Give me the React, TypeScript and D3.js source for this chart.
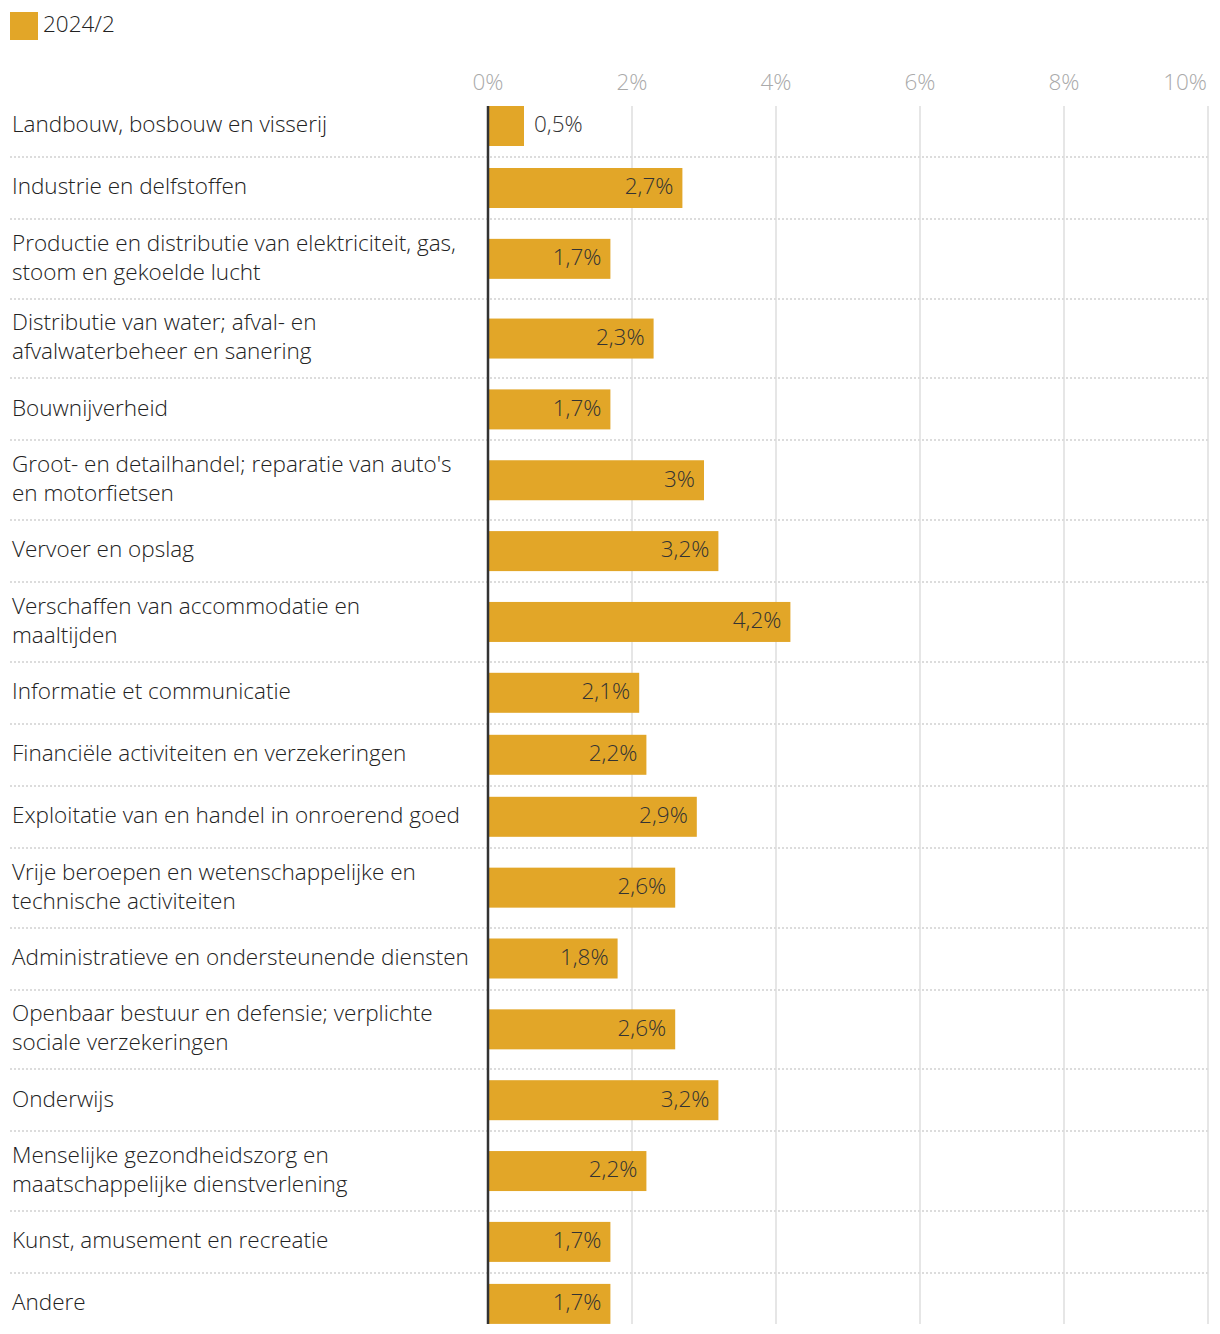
import React from "react";
import * as d3 from "d3";

const categories: string[][] = [
  ["Landbouw, bosbouw en visserij"],
  ["Industrie en delfstoffen"],
  ["Productie en distributie van elektriciteit, gas,", "stoom en gekoelde lucht"],
  ["Distributie van water; afval- en", "afvalwaterbeheer en sanering"],
  ["Bouwnijverheid"],
  ["Groot- en detailhandel; reparatie van auto's", "en motorfietsen"],
  ["Vervoer en opslag"],
  ["Verschaffen van accommodatie en", "maaltijden"],
  ["Informatie et communicatie"],
  ["Financiële activiteiten en verzekeringen"],
  ["Exploitatie van en handel in onroerend goed"],
  ["Vrije beroepen en wetenschappelijke en", "technische activiteiten"],
  ["Administratieve en ondersteunende diensten"],
  ["Openbaar bestuur en defensie; verplichte", "sociale verzekeringen"],
  ["Onderwijs"],
  ["Menselijke gezondheidszorg en", "maatschappelijke dienstverlening"],
  ["Kunst, amusement en recreatie"],
  ["Andere"],
];

const values: number[] = [0.5, 2.7, 1.7, 2.3, 1.7, 3.0, 3.2, 4.2, 2.1, 2.2, 2.9, 2.6, 1.8, 2.6, 3.2, 2.2, 1.7, 1.7];

const ticks: number[] = [0, 2, 4, 6, 8, 10];
const seriesName = "2024/2";

const W = 1220;
const H = 1334;
const FONT = "'Open Sans', 'Noto Sans', sans-serif";
const FW = 300;
const FS = 22.5;
const BAR_COLOR = "#E2A628";

export default function App() {
  const x = d3.scaleLinear().domain([0, 10]).range([488, 1208]);
  const fmt = (v: number) => String(v).replace(".", ",") + "%";

  // row layout
  const top = 95;
  const oneLine = 62;
  const twoLine = 79.7;
  const rows: { y0: number; h: number }[] = [];
  let cy = top;
  categories.forEach((c) => {
    const h = c.length > 1 ? twoLine : oneLine;
    rows.push({ y0: cy, h });
    cy += h;
  });
  const barH = 40;
  const barTop = rows[0].y0 + rows[0].h / 2 - barH / 2;
  const last = rows[rows.length - 1];
  const barBottom = last.y0 + last.h / 2 + barH / 2;
  const lastTick = ticks[ticks.length - 1];

  return (
    <svg
      width={W}
      height={H}
      style={{ position: "absolute", left: 0, top: 0, background: "#fff" }}
      fontFamily={FONT}
      fontWeight={FW}
    >
      {/* legend */}
      <rect x={10} y={12} width={28} height={28} fill={BAR_COLOR} />
      <text x={43} y={24} dy="0.35em" fontSize={FS} fill="#222">
        {seriesName}
      </text>

      {/* ticks */}
      {ticks.map((t) => (
        <g key={t}>
          <text
            x={t === lastTick ? x(t) - 1 : x(t)}
            y={82}
            dy="0.35em"
            textAnchor={t === lastTick ? "end" : "middle"}
            fontSize={FS}
            fill="#aaa"
          >
            {t + "%"}
          </text>
          {t > 0 && (
            <line
              x1={x(t)}
              x2={x(t)}
              y1={barTop}
              y2={barBottom}
              stroke="#e6e6e6"
              strokeWidth={2}
            />
          )}
        </g>
      ))}

      {/* separators */}
      {rows.slice(1).map((r, i) => (
        <line
          key={i}
          x1={10}
          x2={1208}
          y1={Math.round(r.y0)}
          y2={Math.round(r.y0)}
          stroke="#dcdcdc"
          strokeWidth={2}
          strokeDasharray="2,2"
        />
      ))}

      {/* rows */}
      {categories.map((c, i) => {
        const r = rows[i];
        const cyy = r.y0 + r.h / 2;
        const v = values[i];
        const bx = x(0) + 1;
        const bw = x(v) - x(0) - 1;
        const inside = bw > 60;
        return (
          <g key={i}>
            {c.map((line, j) => (
              <text
                key={j}
                x={12}
                y={cyy + (j - (c.length - 1) / 2) * 29 - 1.5}
                dy="0.35em"
                fontSize={FS}
                fill="#222"
              >
                {line}
              </text>
            ))}
            <rect
              x={bx}
              y={cyy - barH / 2}
              width={bw}
              height={barH}
              fill={BAR_COLOR}
            />
            <text
              x={inside ? x(v) - 9 : x(v) + 10}
              y={cyy - 1.5}
              dy="0.35em"
              textAnchor={inside ? "end" : "start"}
              fontSize={FS}
              fill="#333"
            >
              {fmt(v)}
            </text>
          </g>
        );
      })}

      {/* axis line */}
      <line
        x1={x(0)}
        x2={x(0)}
        y1={barTop}
        y2={barBottom}
        stroke="#333"
        strokeWidth={2.5}
      />
    </svg>
  );
}
